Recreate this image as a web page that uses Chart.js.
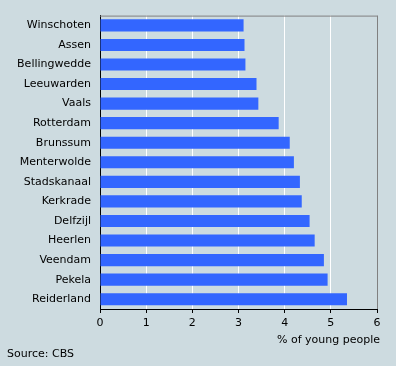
<!DOCTYPE html>
<html>
<head>
<meta charset="utf-8">
<script src="https://cdn.jsdelivr.net/npm/chart.js@4/dist/chart.umd.min.js"></script>
<style>
  body { margin: 0; background: #cddbe0; }
  canvas { display: block; }
</style>
</head>
<body>
<canvas id="chart" width="396" height="366"></canvas>
<script>
let places = ["Winschoten", "Assen", "Bellingwedde", "Leeuwarden", "Vaals", "Rotterdam",
    "Brunssum", "Menterwolde", "Stadskanaal", "Kerkrade", "Delfzijl", "Heerlen",
    "Veendam", "Pekela", "Reiderland"];
let youngPct = [3.11, 3.13, 3.15, 3.39, 3.43, 3.87, 4.11, 4.20, 4.33, 4.37, 4.54, 4.65, 4.85, 4.93, 5.35];
let xTicks = [0, 1, 2, 3, 4, 5, 6];

let axisTitle = "% of young people";
let source = "Source: CBS";

let font = "DejaVu Sans";
let bg = "#cddbe0";

// background, top/right frame and the extra texts
let extras = {
    id: "extras",
    beforeDraw(chart) {
        let ctx = chart.ctx;
        ctx.save();
        ctx.fillStyle = bg;
        ctx.fillRect(0, 0, chart.width, chart.height);
        ctx.restore();
    },
    afterDraw(chart) {
        let ctx = chart.ctx;
        let a = chart.chartArea;
        ctx.save();
        ctx.strokeStyle = "#808080";
        ctx.lineWidth = 1;
        ctx.beginPath();
        ctx.moveTo(a.left, a.top + 0.5);
        ctx.lineTo(a.right + 0.5, a.top + 0.5);
        ctx.lineTo(a.right + 0.5, a.bottom);
        ctx.stroke();

        ctx.fillStyle = "#000";
        ctx.font = "11px '" + font + "'";
        ctx.textBaseline = "middle";
        ctx.textAlign = "right";
        ctx.fillText(axisTitle, 380, 340);
        ctx.textAlign = "left";
        ctx.fillText(source, 7, 354);
        ctx.restore();
    }
};

new Chart(document.getElementById("chart"), {
    type: "bar",
    data: {
        labels: places,
        datasets: [{
            data: youngPct,
            backgroundColor: "#3366ff",
            categoryPercentage: 1,
            barPercentage: 0.62
        }]
    },
    options: {
        indexAxis: "y",
        responsive: false,
        animation: false,
        layout: { padding: { left: 0, top: 15, right: 19, bottom: 0 } },
        plugins: {
            legend: { display: false },
            tooltip: { enabled: false }
        },
        scales: {
            x: {
                min: 0,
                max: 6,
                afterBuildTicks: (scale) => { scale.ticks = xTicks.map(v => ({ value: v })); },
                afterFit: (scale) => { scale.height = 57; },
                grid: {
                    color: (c) => c.tick && c.tick.value === 6 ? "#808080" : "#ffffff",
                    lineWidth: 1,
                    tickColor: "#000",
                    tickLength: 4,
                    drawOnChartArea: true
                },
                border: { color: "#000", width: 1 },
                ticks: {
                    color: "#000",
                    font: { family: font, size: 11 },
                    padding: 4,
                    maxRotation: 0
                }
            },
            y: {
                afterFit: (scale) => { scale.width = 100; },
                grid: { display: false, drawTicks: false },
                border: { color: "#000", width: 1 },
                ticks: {
                    color: "#000",
                    font: { family: font, size: 11 },
                    padding: 9
                }
            }
        }
    },
    plugins: [extras]
});
</script>
</body>
</html>
